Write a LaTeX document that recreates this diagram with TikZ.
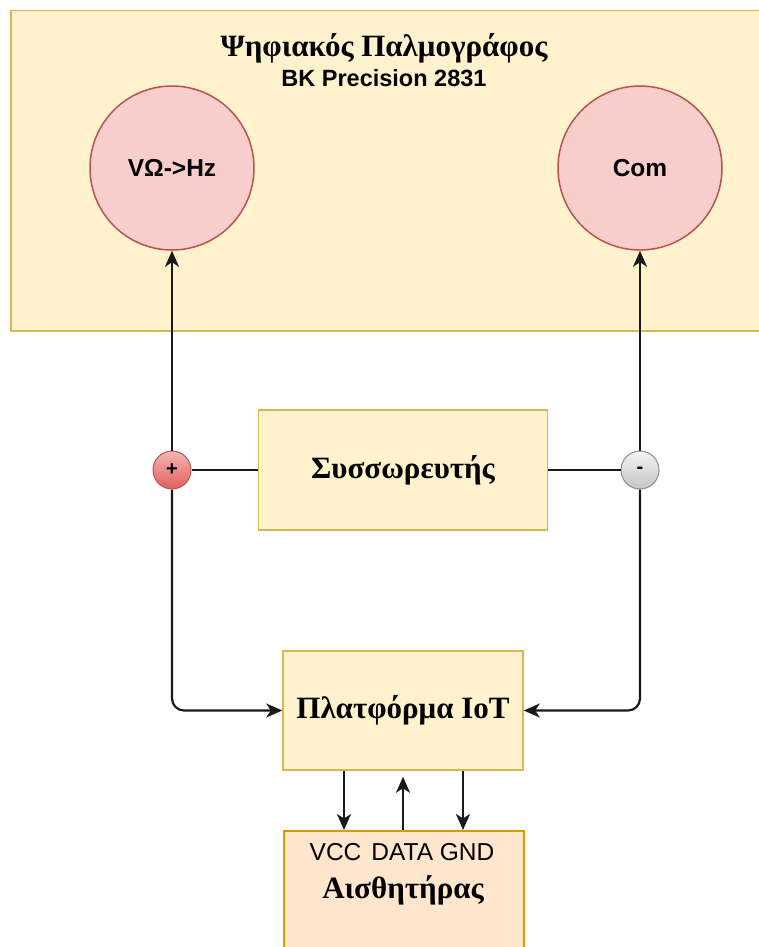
\documentclass[tikz,border=0pt]{standalone}
\usepackage{fontspec}
\setmainfont{Liberation Serif}
\setsansfont{Liberation Sans}
\usetikzlibrary{arrows.meta}
\definecolor{yfill}{HTML}{FFF2CC}
\definecolor{ydraw}{HTML}{D6B656}
\definecolor{rfill}{HTML}{F8CECC}
\definecolor{rdraw}{HTML}{B85450}
\definecolor{ofill}{HTML}{FFE6CC}
\definecolor{odraw}{HTML}{D79B00}
\definecolor{plusA}{HTML}{F5B5B2}
\definecolor{plusB}{HTML}{E0605C}
\definecolor{minusA}{HTML}{F4F4F4}
\definecolor{minusB}{HTML}{C4C4C4}
\tikzset{
  ybox/.style={draw=ydraw, fill=yfill, line width=1.5pt, inner sep=0pt},
  obox/.style={draw=odraw, fill=ofill, line width=1.5pt, inner sep=0pt},
  port/.style={circle, draw=rdraw, fill=rfill, line width=1.5pt, minimum size=164pt, inner sep=0pt,
    font=\sffamily\bfseries\fontsize{24.5}{28}\selectfont},
  greek/.style={font=\bfseries\fontsize{31}{34}\selectfont},
  term/.style={circle, line width=1pt, minimum size=38pt, inner sep=0pt,
    font=\sffamily\bfseries\fontsize{20}{22}\selectfont},
  wire/.style={line width=2.2pt, draw=black!90},
  arr/.style={wire, -{Stealth[length=16pt, width=14pt, inset=4.5pt]}},
}
\begin{document}
\begin{tikzpicture}[x=1pt, y=-1pt]
\useasboundingbox (0,0) rectangle (759,947);
\clip (0,0) rectangle (759,947);
% oscilloscope
\node[ybox, anchor=north west, minimum width=770pt, minimum height=320pt] (osc) at (10,10) {};
\node[greek] (title) at (384,48) {Ψηφιακός Παλμογράφος};
\node[font=\sffamily\bfseries\fontsize{23.5}{26}\selectfont] (model) at (384,78) {BK Precision 2831};
\node[port] (vhz) at (172,168) {VΩ->Hz};
\node[port] (com) at (640,168) {Com};
% battery
\node[ybox, minimum width=289pt, minimum height=120pt, greek] (bat) at (403,470) {Συσσωρευτής};
\node[term, draw=rdraw, top color=plusA, bottom color=plusB] (plus) at (172,470) {+};
\node[term, draw=black!45, top color=minusA, bottom color=minusB] (minus) at (640,470) {-};
% IoT
\node[ybox, minimum width=240pt, minimum height=119pt, greek] (iot) at (403,710.5) {Πλατφόρμα IoT};
% sensor
\node[obox, anchor=north west, minimum width=240pt, minimum height=140pt] (sens) at (283,830) {};
\node[font=\sffamily\fontsize{24.5}{28}\selectfont] (pins) at (402,852) {VCC\hspace{10pt}DATA GND};
\node[greek] (senslbl) at (403,890) {Αισθητήρας};
% wires
\draw[wire] (plus) -- (bat);
\draw[wire] (bat) -- (minus);
\draw[arr] (plus) -- (vhz);
\draw[arr] (minus) -- (com);
\draw[arr, rounded corners=12pt] (plus) |- (iot);
\draw[arr, rounded corners=12pt] (minus) |- (iot);
\draw[arr] ([xshift=-59pt]iot.south) -- ([xshift=-59pt]iot.south |- sens.north);
\draw[arr, shorten >=6pt] (iot.south |- sens.north) -- (iot.south);
\draw[arr] ([xshift=60pt]iot.south) -- ([xshift=60pt]iot.south |- sens.north);
\end{tikzpicture}
\end{document}
